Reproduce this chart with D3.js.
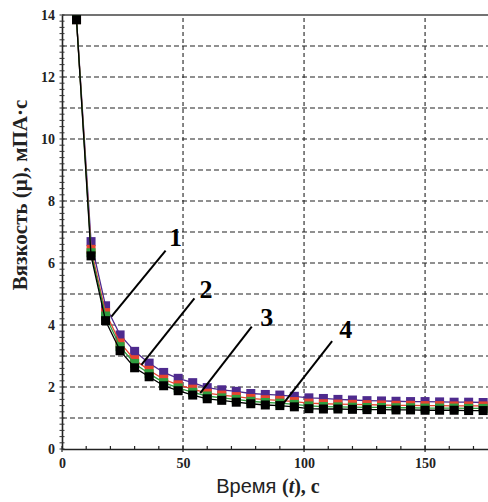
<!DOCTYPE html>
<html><head><meta charset="utf-8">
<script src="https://cdn.jsdelivr.net/npm/d3@7"></script>
<style>body{margin:0;background:#fff}svg{display:block}</style>
</head><body>
<svg id="c" width="488" height="502"></svg>
<script>
const times = [6,12,18,24,30,36,42,48,54,60,66,72,78,84,90,96,102,108,114,120,126,132,138,144,150,156,162,168,174];
const series1 = [13.85,6.69,4.62,3.68,3.15,2.77,2.47,2.28,2.14,1.98,1.91,1.86,1.79,1.76,1.74,1.70,1.65,1.63,1.60,1.58,1.56,1.55,1.54,1.53,1.53,1.52,1.51,1.51,1.50];
const series2 = [13.85,6.44,4.40,3.42,2.88,2.54,2.25,2.07,1.93,1.80,1.74,1.69,1.63,1.59,1.57,1.53,1.48,1.46,1.45,1.44,1.43,1.42,1.41,1.41,1.40,1.40,1.39,1.39,1.39];
const series3 = [13.85,6.33,4.29,3.30,2.76,2.43,2.14,1.97,1.83,1.71,1.65,1.60,1.54,1.50,1.48,1.44,1.39,1.37,1.36,1.35,1.34,1.34,1.33,1.33,1.32,1.32,1.32,1.31,1.31];
const series4 = [13.85,6.23,4.14,3.17,2.62,2.33,2.04,1.88,1.74,1.62,1.57,1.51,1.46,1.42,1.40,1.36,1.30,1.29,1.29,1.28,1.27,1.27,1.26,1.26,1.25,1.25,1.25,1.24,1.24];
const seriesColors = ["#4e2a8e","#e8442e","#2f9e3f","#000000"];
const labelNames = ["1","2","3","4"];
const labelPos = [[46.9,6.81],[59.5,5.13],[84.6,4.23],[117.2,3.84]];
const leaderFrom = [[42.8,6.40],[54.7,4.86],[78.4,3.95],[111.6,3.48]];
const leaderTo = [[20.4,4.27],[32.8,2.71],[57.1,1.80],[90.7,1.39]];
const xTicks = [0,50,100,150];
const yTicks = [0,2,4,6,8,10,12,14];
const yGrid = [1,2,3,4,5,6,7,8,9,10,11,12,13];
const xGrid = [50,100,150];

const svg = d3.select("#c");
const x = d3.scaleLinear().domain([0,176]).range([62,488]);
const y = d3.scaleLinear().domain([0,14]).range([449,15]);
const serif = "'Liberation Serif','Times New Roman',serif";

// grid
svg.append("g").selectAll("line").data(yGrid).join("line")
  .attr("x1",x(0)).attr("x2",x(176)).attr("y1",d=>y(d)).attr("y2",d=>y(d))
  .attr("stroke","#222").attr("stroke-width",1.1).attr("stroke-dasharray","5,3");
svg.append("g").selectAll("line").data(xGrid).join("line")
  .attr("x1",d=>x(d)).attr("x2",d=>x(d)).attr("y1",y(0)).attr("y2",y(14))
  .attr("stroke","#222").attr("stroke-width",1.1).attr("stroke-dasharray","4,3");
// top border
svg.append("line").attr("x1",x(0)).attr("x2",x(176)).attr("y1",y(14)).attr("y2",y(14))
  .attr("stroke","#444").attr("stroke-width",1.5);

// axes
const xAxis = svg.append("g").attr("transform",`translate(0,${y(0)})`)
  .call(d3.axisBottom(x).tickValues(xTicks).tickSize(0).tickPadding(9));
xAxis.select(".domain").attr("stroke","#222").attr("stroke-width",1.6);
xAxis.selectAll("text").attr("font-family",serif).attr("font-weight","bold").attr("font-size",14).attr("fill","#222");
const xMinor = d3.range(0,177,10);
svg.append("g").selectAll("line").data(xMinor).join("line")
  .attr("x1",d=>x(d)).attr("x2",d=>x(d)).attr("y1",y(0)-3).attr("y2",d=>d%50===0?y(0)+3:y(0))
  .attr("stroke","#222").attr("stroke-width",1.2);

const yAxis = svg.append("g").attr("transform",`translate(${x(0)},0)`)
  .call(d3.axisLeft(y).tickValues(yTicks).tickSize(0).tickPadding(7));
yAxis.select(".domain").attr("stroke","#222").attr("stroke-width",1.6);
yAxis.selectAll("text").attr("font-family",serif).attr("font-weight","bold").attr("font-size",14).attr("fill","#222");
const yMinor = d3.range(0,14.01,0.2);
svg.append("g").selectAll("line").data(yMinor).join("line")
  .attr("x1",x(0)-2.5).attr("x2",x(0)+2.5).attr("y1",d=>y(d)).attr("y2",d=>y(d))
  .attr("stroke","#333").attr("stroke-width",1);

// series
const allSeries = [series1,series2,series3,series4];
const line = d3.line().x(d=>x(d[0])).y(d=>y(d[1]));
allSeries.forEach((s,i)=>{
  const pts = times.map((t,j)=>[t,s[j]]);
  const g = svg.append("g");
  g.append("path").datum(pts).attr("d",line).attr("fill","none")
    .attr("stroke",seriesColors[i]).attr("stroke-width",1.3);
  g.selectAll("rect").data(pts).join("rect")
    .attr("x",d=>x(d[0])-4.5).attr("y",d=>y(d[1])-4.5).attr("width",9).attr("height",9)
    .attr("fill",seriesColors[i]);
});

// leader lines and labels
svg.append("g").selectAll("line").data(leaderFrom).join("line")
  .attr("x1",d=>x(d[0])).attr("y1",d=>y(d[1]))
  .attr("x2",(d,i)=>x(leaderTo[i][0])).attr("y2",(d,i)=>y(leaderTo[i][1]))
  .attr("stroke","#000").attr("stroke-width",2);
svg.append("g").selectAll("text").data(labelNames).join("text")
  .attr("x",(d,i)=>x(labelPos[i][0])).attr("y",(d,i)=>y(labelPos[i][1]))
  .attr("text-anchor","middle").attr("dominant-baseline","central")
  .attr("font-family",serif).attr("font-weight","bold").attr("font-size",26)
  .text(d=>d);

// axis titles
const xt = svg.append("text").attr("x",268).attr("y",493).attr("text-anchor","middle").attr("fill","#222");
xt.append("tspan").attr("font-family","'Liberation Sans',Arial,sans-serif").attr("font-size",20).text("Время ");
xt.append("tspan").attr("font-family",serif).attr("font-weight","bold").attr("font-size",20).text("(");
xt.append("tspan").attr("font-family",serif).attr("font-weight","bold").attr("font-style","italic").attr("font-size",20).text("t");
xt.append("tspan").attr("font-family",serif).attr("font-weight","bold").attr("font-size",20).text("), с");

svg.append("text").attr("transform","translate(27,195) rotate(-90)")
  .attr("text-anchor","middle").attr("font-family",serif).attr("font-weight","bold")
  .attr("font-size",21).attr("fill","#222").text("Вязкость (μ), мПА·с");
</script>
</body></html>
